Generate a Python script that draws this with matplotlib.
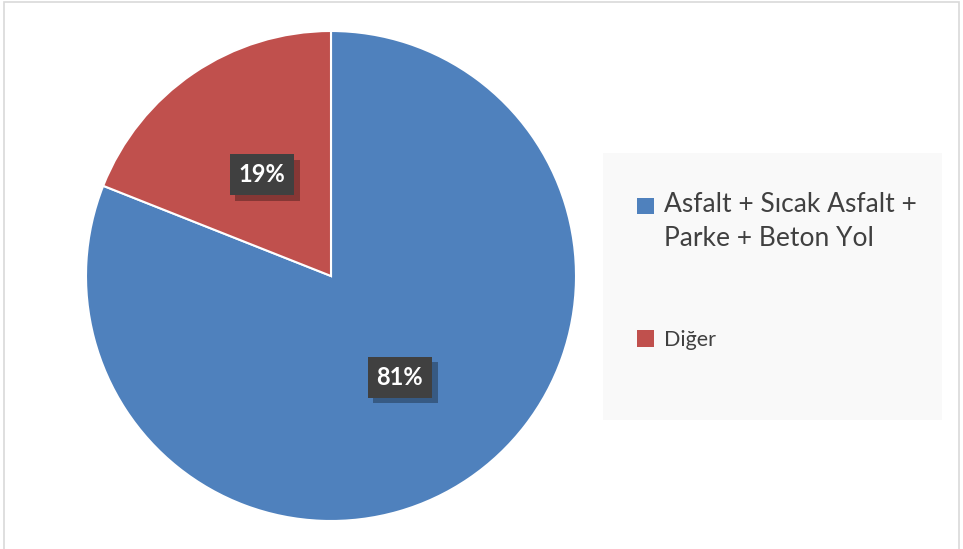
import matplotlib
matplotlib.use("Agg")
import matplotlib.pyplot as plt
from matplotlib.patches import Rectangle
from matplotlib.legend_handler import HandlerPatch
import matplotlib.patheffects as pe

labels = ["Asfalt + Sıcak Asfalt +\nParke + Beton Yol", "Diğer"]
values = [81, 19]
colors = ["#4F81BD", "#C0504D"]

plt.rcParams['font.family'] = ['Lato', 'DejaVu Sans']

W, H = 963, 549
fig = plt.figure(figsize=(W / 100, H / 100), dpi=100)
fig.patch.set_facecolor("white")

# outer chart border
fig.add_artist(Rectangle((4 / W, -0.01), (959 - 4) / W, (H - 2) / H + 0.01,
                         transform=fig.transFigure, fill=False,
                         edgecolor="#D9D9D9", linewidth=1.2))

# legend background
fig.add_artist(Rectangle((603 / W, 1 - 420 / H), (942 - 603) / W, (420 - 153) / H,
                         transform=fig.transFigure, facecolor="#F9F9F9",
                         edgecolor="none"))

cx, cy, r = 331, 276, 245
ax = fig.add_axes([(cx - r) / W, (H - cy - r) / H, 2 * r / W, 2 * r / H])
wedges, texts, autotexts = ax.pie(
    values, colors=colors, startangle=90, counterclock=False,
    autopct=lambda p: f"{p:.0f}%", pctdistance=0.5,
    wedgeprops=dict(edgecolor="white", linewidth=1.5),
    textprops=dict(color="white", fontsize=17, fontweight="bold"))
ax.set_xlim(-1, 1)
ax.set_ylim(-1, 1)
ax.set_aspect("equal")
ax.axis("off")

for t in autotexts:
    t.set_bbox(dict(boxstyle="square,pad=0.38", facecolor="#404040",
                    edgecolor="none"))
    t.get_bbox_patch().set_path_effects(
        [pe.SimplePatchShadow(offset=(4, -4), shadow_rgbFace="#000000", alpha=0.3),
         pe.Normal()])


def first_line_patch(legend, orig_handle, xdescent, ydescent, width, height, fontsize):
    return Rectangle((-xdescent, -ydescent + 13), width, height)


handles = [Rectangle((0, 0), 1, 1, facecolor=c, edgecolor="none") for c in colors]
leg = fig.legend(handles, labels, loc="upper left",
                 bbox_to_anchor=(637 / W, 1 - 192 / H),
                 frameon=False, fontsize=15.5, handlelength=0.8,
                 handleheight=0.8, handletextpad=0.45, labelspacing=3.65,
                 borderpad=0, borderaxespad=0,
                 handler_map={handles[0]: HandlerPatch(patch_func=first_line_patch)})
for txt in leg.get_texts():
    txt.set_color("#404040")
leg.get_texts()[0].set_fontsize(19)
leg.get_texts()[0].set_linespacing(1.47)

fig.savefig("out.png", dpi=100)
